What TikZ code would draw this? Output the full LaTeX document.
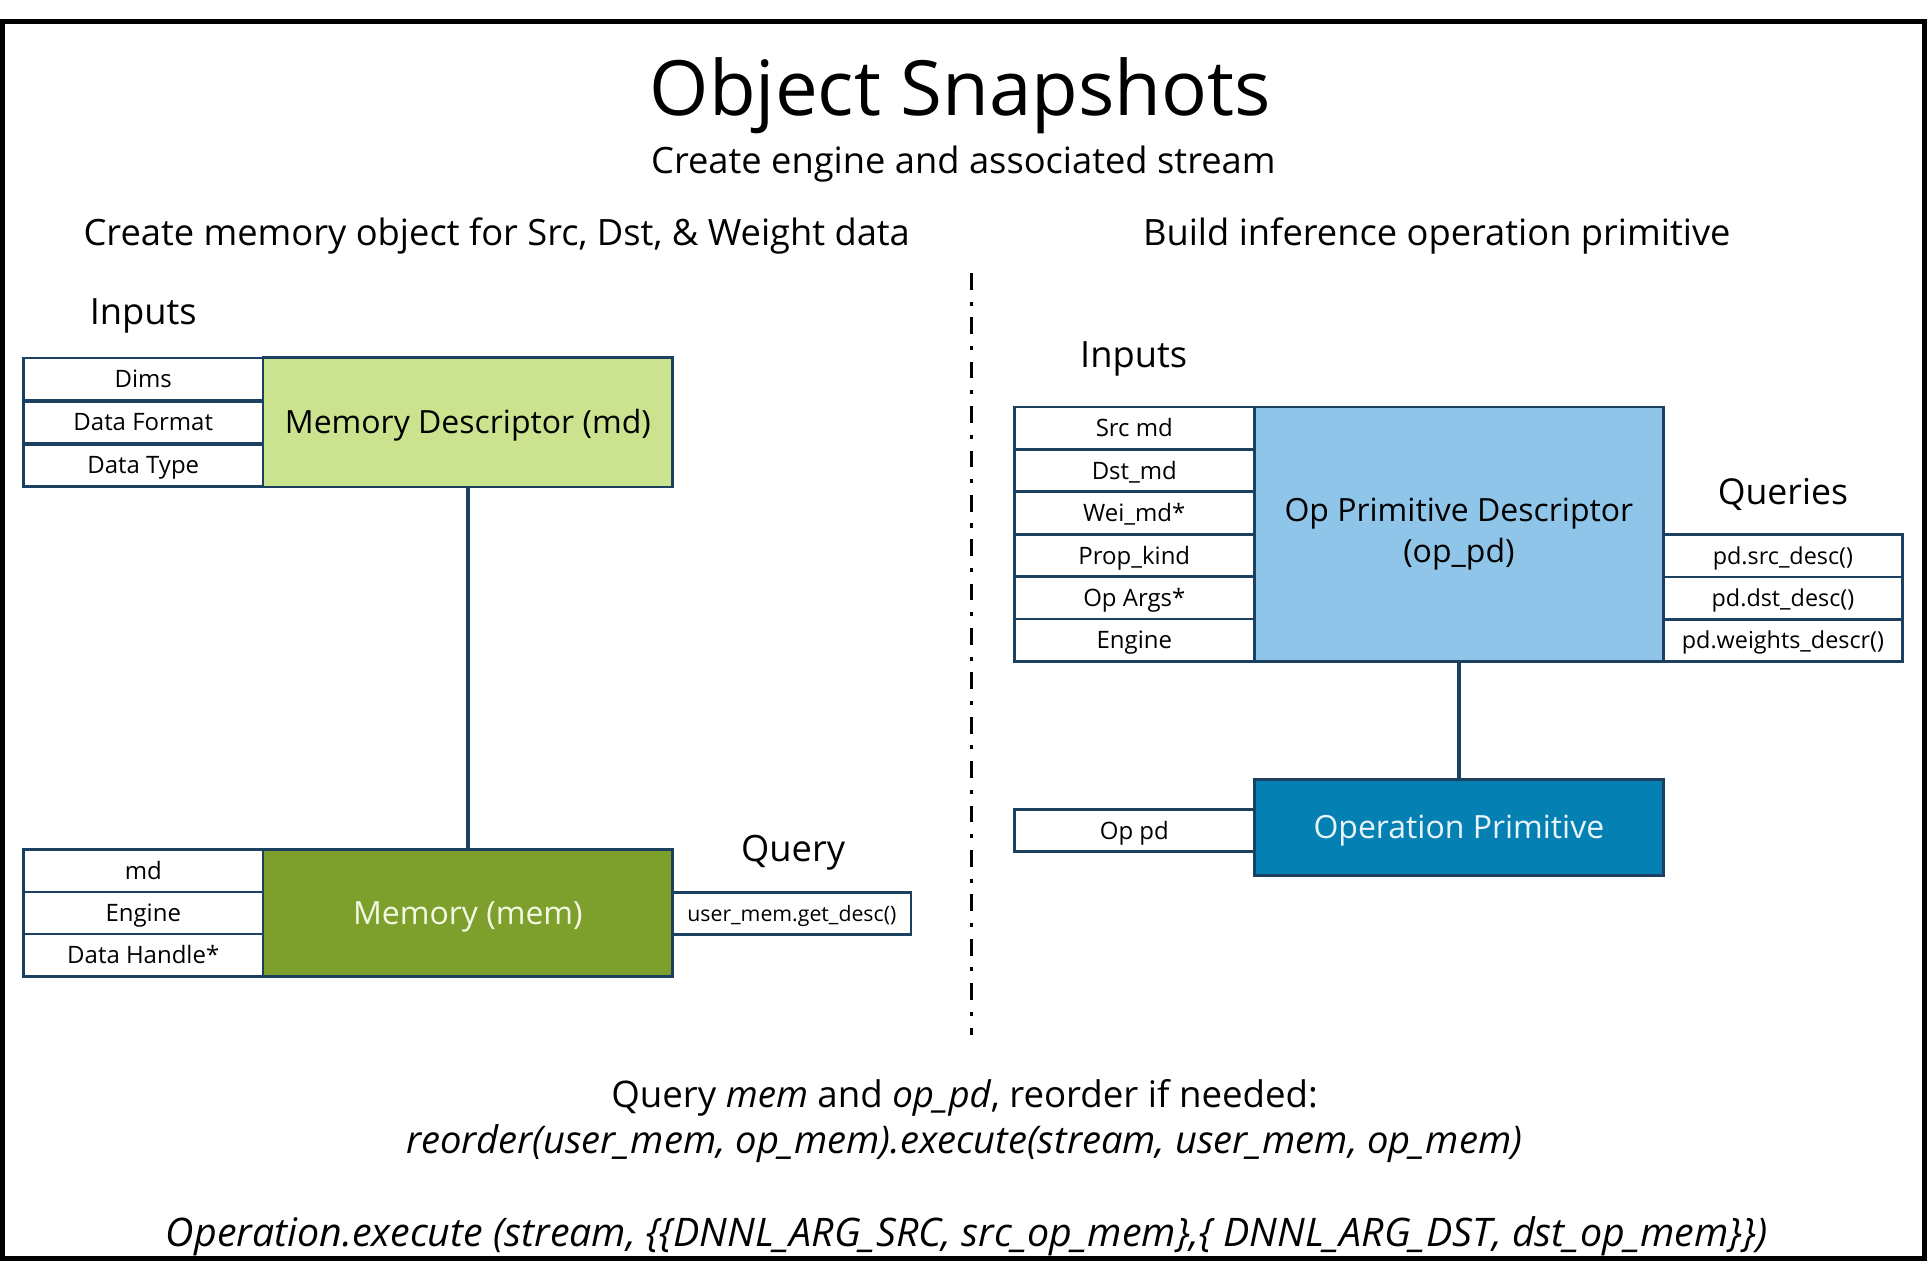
\documentclass[tikz,border=0pt]{standalone}
\usepackage{fontspec}
\setmainfont{Open Sans}
\definecolor{bordc}{HTML}{1C4160}
\definecolor{mdgreen}{HTML}{CBE38E}
\definecolor{memgreen}{HTML}{7DA02C}
\definecolor{memtxt}{HTML}{F2F8E4}
\definecolor{lightblue}{HTML}{8FC5E8}
\definecolor{opblue}{HTML}{0580B3}
\definecolor{optxt}{HTML}{E8F4FA}
\begin{document}
\begin{tikzpicture}[x=1pt,y=-1pt,
  inbox/.style={draw=bordc, line width=2.2pt, fill=white, minimum width=195pt,
    minimum height=34.5pt, inner sep=0pt, outer sep=0pt,
    font=\fontsize{19.5}{23}\selectfont, text height=13.9pt, text depth=0pt},
  qbox/.style={inbox, minimum width=194pt, font=\fontsize{19}{23}\selectfont, text height=13.6pt},
  bigbox/.style={draw=bordc, line width=2.2pt, minimum width=333pt, inner sep=0pt,
    outer sep=0pt, font=\fontsize{26}{33}\selectfont},
  lbl/.style={anchor=base, inner sep=0pt, outer sep=0pt},
  conn/.style={draw=bordc, line width=3pt},
  sect/.style={lbl, font=\fontsize{29.5}{34}\selectfont},
  head/.style={lbl, font=\fontsize{29.5}{34}\selectfont},
  bottxt/.style={lbl, font=\fontsize{29.8}{35}\selectfont}
]
\useasboundingbox (0,0) rectangle (1568,1039.5);
\fill[white] (0,0) rectangle (1568,1039.5);
% outer frame
\draw[line width=4pt] (2,17.5) rectangle (1565.5,1023.5);

% titles
\node[lbl, font=\fontsize{62}{70}\selectfont] (title) at (781,94) {Object Snapshots};
\node[lbl, font=\fontsize{29.5}{34}\selectfont] (subtitle) at (783.5,141) {Create engine and associated stream};
\node[sect] (lefthead) at (404,200) {Create memory object for Src, Dst, \& Weight data};
\node[sect] (righthead) at (1168.5,200) {Build inference operation primitive};

% divider
\coordinate (dtop) at (790,222);
\coordinate (dbot) at (790,842);
\draw[line width=3pt, dash pattern=on 13.6pt off 9.6pt on 3.3pt off 9.6pt] (dtop) -- (dbot);

% ---------- left: memory descriptor ----------
\node[head] (inputsL) at (116.5,264) {Inputs};
\node[inbox] (dims)  at (116.5,308.5) {Dims};
\node[inbox] (dfmt)  at (116.5,343.5) {Data Format};
\node[inbox] (dtype) at (116.5,378.5) {Data Type};
\node[bigbox, fill=mdgreen, minimum height=105pt, text height=18.5pt, text depth=0pt] (md) at (380.5,343.5) {Memory Descriptor (md)};

% ---------- left: memory ----------
\node[inbox, minimum height=34.3pt] (imd)  at (116.5,708.2) {md};
\node[inbox, minimum height=34.3pt] (ieng) at (116.5,742.5) {Engine};
\node[inbox, minimum height=34.3pt] (idh)  at (116.5,776.8) {Data Handle*};
\node[bigbox, fill=memgreen, text=memtxt, minimum height=103pt, text height=18.5pt, text depth=0pt] (mem) at (380.5,742.5) {Memory (mem)};
\node[head] (querylbl) at (645,701) {Query};
\node[qbox, minimum height=34pt, font=\fontsize{17.3}{21}\selectfont, text height=12.4pt] (qmem) at (644,743) {user\_mem.get\_desc()};

\draw[conn] (md.south) -- (mem.north);

% ---------- right: op primitive descriptor ----------
\node[head] (inputsR) at (922,299) {Inputs};
\node[inbox] (src)  at (922.5,348.25) {Src md};
\node[inbox] (dst)  at (922.5,382.75) {Dst\_md};
\node[inbox] (wei)  at (922.5,417.25) {Wei\_md*};
\node[inbox] (prop) at (922.5,451.75) {Prop\_kind};
\node[inbox] (args) at (922.5,486.25) {Op Args*};
\node[inbox] (eng)  at (922.5,520.75) {Engine};
\node[bigbox, fill=lightblue, minimum height=207pt, align=center] (oppd) at (1186.5,434.5) {Op Primitive Descriptor\\(op\_pd)};

\node[lbl, font=\fontsize{29}{34}\selectfont] (querieslbl) at (1450,410.6) {Queries};
\node[qbox] (qsrc) at (1450,452) {pd.src\_desc()};
\node[qbox] (qdst) at (1450,486.5) {pd.dst\_desc()};
\node[qbox] (qwei) at (1450,521) {pd.weights\_descr()};

% ---------- right: operation primitive ----------
\node[inbox] (oppdin) at (922.5,675.5) {Op pd};
\node[bigbox, fill=opblue, text=optxt, minimum height=78pt, text height=18.5pt, text depth=0pt] (op) at (1186.5,673) {Operation Primitive};

\draw[conn] (oppd.south) -- (op.north);

% ---------- bottom text ----------
\node[bottxt] (q1) at (784.5,900.7) {Query \textit{mem} and \textit{op\_pd}, reorder if needed:};
\node[lbl, font=\fontsize{31}{36}\selectfont] (q2) at (784,937.8) {\textit{reorder(user\_mem, op\_mem).execute(stream, user\_mem, op\_mem)}};
\node[lbl, font=\fontsize{32}{37}\selectfont] (q3) at (786,1013.7) {\textit{Operation.execute (stream, \{\{DNNL\_ARG\_SRC, src\_op\_mem\},\{ DNNL\_ARG\_DST, dst\_op\_mem\}\})}};
\end{tikzpicture}
\end{document}
